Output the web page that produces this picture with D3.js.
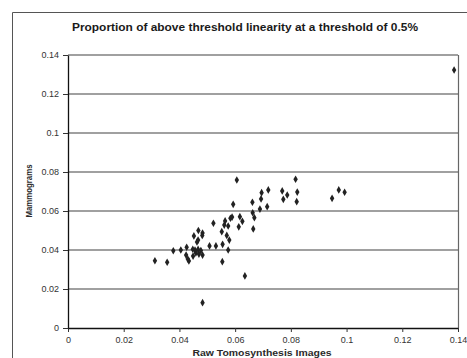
<!DOCTYPE html>
<html>
<head>
<meta charset="utf-8">
<script src="https://cdn.jsdelivr.net/npm/d3@7/dist/d3.min.js"></script>
<style>
  body { margin: 0; background: #fff; }
  svg { display: block; font-family: "Liberation Sans", Arial, sans-serif; }
</style>
</head>
<body>
<svg id="chart" width="467" height="358"></svg>
<script>
// values
const xTicks = [0, 0.02, 0.04, 0.06, 0.08, 0.1, 0.12, 0.14];
const yTicks = [0, 0.02, 0.04, 0.06, 0.08, 0.1, 0.12, 0.14];

const tomoValues = [
  0.0606, 0.0817, 0.0719, 0.0695, 0.0769, 0.0823, 0.0787, 0.0773, 0.0693, 0.0662,
  0.0593, 0.0821, 0.0972, 0.0993, 0.0948, 0.0689, 0.0715, 0.0663, 0.0669, 0.0665,
  0.0617, 0.0626, 0.0613, 0.0583, 0.0589, 0.0564, 0.0561, 0.0575, 0.0522, 0.0552,
  0.0570, 0.0579, 0.0555, 0.0531, 0.0508, 0.0575, 0.0554, 0.0635, 0.0483, 0.0468,
  0.0483, 0.0482, 0.0452, 0.0467, 0.0463, 0.0426, 0.0405, 0.0378, 0.0448, 0.0456,
  0.0467, 0.0477, 0.0459, 0.0449, 0.0424, 0.0430, 0.0434, 0.0470, 0.0483, 0.0312,
  0.0356, 0.1386
];
const mammoValues = [
  0.0759, 0.0763, 0.0708, 0.0694, 0.0703, 0.0697, 0.0682, 0.0660, 0.0662, 0.0645,
  0.0634, 0.0648, 0.0708, 0.0696, 0.0665, 0.0610, 0.0622, 0.0591, 0.0566, 0.0508,
  0.0571, 0.0547, 0.0519, 0.0563, 0.0569, 0.0549, 0.0528, 0.0523, 0.0537, 0.0494,
  0.0475, 0.0451, 0.0429, 0.0421, 0.0421, 0.0400, 0.0340, 0.0267, 0.0130, 0.0500,
  0.0487, 0.0475, 0.0472, 0.0451, 0.0441, 0.0414, 0.0400, 0.0396, 0.0404, 0.0400,
  0.0403, 0.0397, 0.0385, 0.0369, 0.0374, 0.0354, 0.0344, 0.0379, 0.0374, 0.0345,
  0.0337, 0.1323
];

const titleText = "Proportion of above threshold linearity at a threshold of 0.5%";
const xLabel = "Raw Tomosynthesis Images";
const yLabel = "Mammograms";

const margin = {top: 55, right: 9, bottom: 30, left: 68};
const width = 467 - margin.left - margin.right;
const height = 358 - margin.top - margin.bottom;

const svg = d3.select("#chart");

// outer frame of the original figure
svg.append("path")
    .attr("d", "M12.5,358 V12.5 H467")
    .attr("fill", "none")
    .attr("stroke", "#555")
    .attr("stroke-width", 1);

svg.append("text")
    .attr("x", 245)
    .attr("y", 31)
    .attr("text-anchor", "middle")
    .attr("textLength", 346)
    .attr("lengthAdjust", "spacingAndGlyphs")
    .style("font-size", "10.5px")
    .style("font-weight", "bold")
    .style("fill", "#1a1a1a")
    .text(titleText);

const g = svg.append("g")
    .attr("transform", "translate(" + margin.left + "," + margin.top + ")");

const x = d3.scaleLinear().domain([0, 0.14]).range([0, width]);
const y = d3.scaleLinear().domain([0, 0.14]).range([height, 0]);

// gridlines
g.append("g")
    .selectAll("line")
    .data(yTicks.filter(d => d > 0))
    .join("line")
    .attr("x1", 0)
    .attr("x2", width)
    .attr("y1", d => y(d))
    .attr("y2", d => y(d))
    .attr("stroke", "#808080")
    .attr("stroke-width", 1.4);

// right frame
g.append("line")
    .attr("x1", width + 0.5).attr("x2", width + 0.5)
    .attr("y1", 0).attr("y2", height)
    .attr("stroke", "#666")
    .attr("stroke-width", 1.2);

const xAxis = g.append("g")
    .attr("transform", "translate(0," + height + ")")
    .call(d3.axisBottom(x).tickValues(xTicks).tickFormat(d3.format("~g")).tickSize(4).tickSizeOuter(0));

const yAxis = g.append("g")
    .call(d3.axisLeft(y).tickValues(yTicks).tickFormat(d3.format("~g")).tickSize(5).tickSizeOuter(0));

[xAxis, yAxis].forEach(a => {
  a.select(".domain").attr("stroke", "#111").attr("stroke-width", 1.3);
  a.selectAll(".tick line").attr("stroke", "#333");
  a.selectAll(".tick text")
      .style("font-size", "9px")
      .style("font-family", "'Liberation Sans', Arial, sans-serif")
      .attr("fill", "#333");
});
xAxis.selectAll(".tick text").attr("dy", "0.85em");
yAxis.selectAll(".tick text").attr("x", -9);

// points
const points = tomoValues.map((v, i) => [v, mammoValues[i]]);
g.append("g")
    .selectAll("path")
    .data(points)
    .join("path")
    .attr("transform", d => "translate(" + x(d[0]) + "," + y(d[1]) + ")")
    .attr("d", d3.symbol().type(d3.symbolDiamond).size(17))
    .attr("fill", "#222");

svg.append("text")
    .attr("x", 262)
    .attr("y", 356)
    .attr("text-anchor", "middle")
    .attr("textLength", 139)
    .attr("lengthAdjust", "spacingAndGlyphs")
    .style("font-size", "9px")
    .style("font-weight", "bold")
    .style("fill", "#2a2a2a")
    .text(xLabel);

svg.append("text")
    .attr("transform", "translate(32,191) rotate(-90)")
    .attr("text-anchor", "middle")
    .attr("textLength", 53)
    .attr("lengthAdjust", "spacingAndGlyphs")
    .style("font-size", "8.5px")
    .style("font-weight", "bold")
    .style("fill", "#2a2a2a")
    .text(yLabel);
</script>
</body>
</html>
